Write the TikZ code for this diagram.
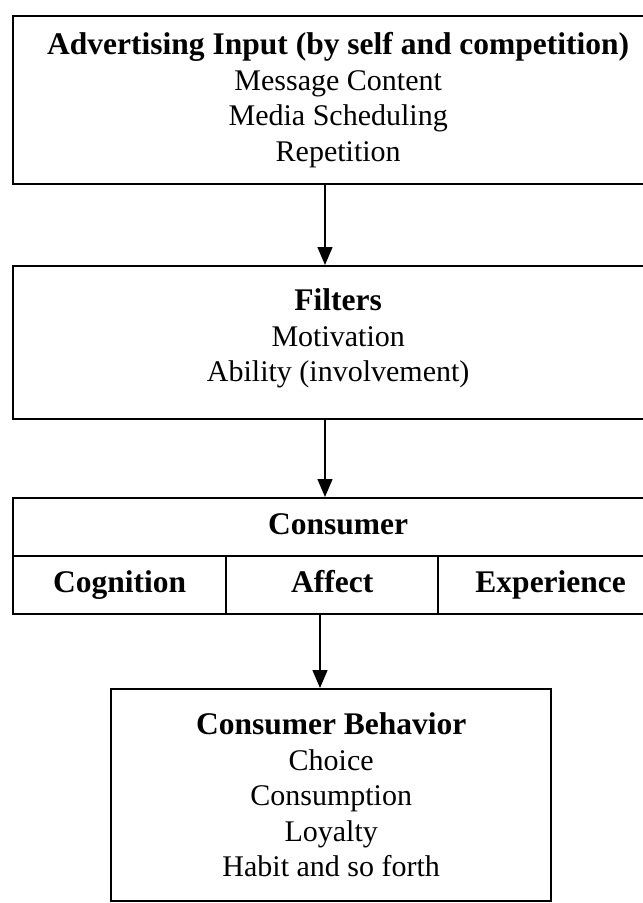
\documentclass[tikz,border=0pt]{standalone}
\usepackage{fontspec}
\setmainfont{Liberation Serif}
\usetikzlibrary{arrows.meta}
\tikzset{
  box/.style={draw, line width=2.4pt, inner sep=0pt, align=center,
    anchor=north west, font=\fontsize{30}{35.5}\selectfont},
  cell/.style={box, minimum height=58pt, text height=22pt, text depth=7pt,
    font=\fontsize{31.5}{35.5}\selectfont\bfseries},
  arr/.style={line width=1.4pt, -{Triangle[length=18pt,width=15pt]}},
}
\begin{document}
\begin{tikzpicture}[x=1pt,y=-1pt]
\useasboundingbox (0,0) rectangle (643,903);
\clip (0,0) rectangle (643,903);
\node[box, minimum width=650pt, minimum height=168pt] (adv) at (12,15)
  {{\fontsize{31.5}{35.5}\selectfont\bfseries Advertising Input (by self and competition)}\\
   Message Content\\ Media Scheduling\\ Repetition};
\node[box, minimum width=650pt, minimum height=153pt] (fil) at (12,265)
  {{\fontsize{31.5}{35.5}\selectfont\bfseries Filters}\\ Motivation\\ Ability (involvement)\\[-21pt]\mbox{}};
\node[cell, minimum width=650pt] (cons) at (12,497) {Consumer};
\node[cell, minimum width=213pt] (cog) at (12,555) {Cognition};
\node[cell, minimum width=212pt] (aff) at (225,555) {Affect};
\node[cell, minimum width=225pt] (exp) at (437,555) {Experience};
\node[box, minimum width=440pt, minimum height=212pt] (beh) at (110,688)
  {{\fontsize{31.5}{35.5}\selectfont\bfseries Consumer Behavior}\\ Choice\\ Consumption\\ Loyalty\\ Habit and so forth};
\coordinate (c1) at (325,0);
\coordinate (c2) at (320,0);
\draw[arr] (adv.south -| c1) -- (fil.north -| c1);
\draw[arr] (fil.south -| c1) -- (cons.north -| c1);
\draw[arr] (aff.south -| c2) -- (beh.north -| c2);
\end{tikzpicture}
\end{document}
